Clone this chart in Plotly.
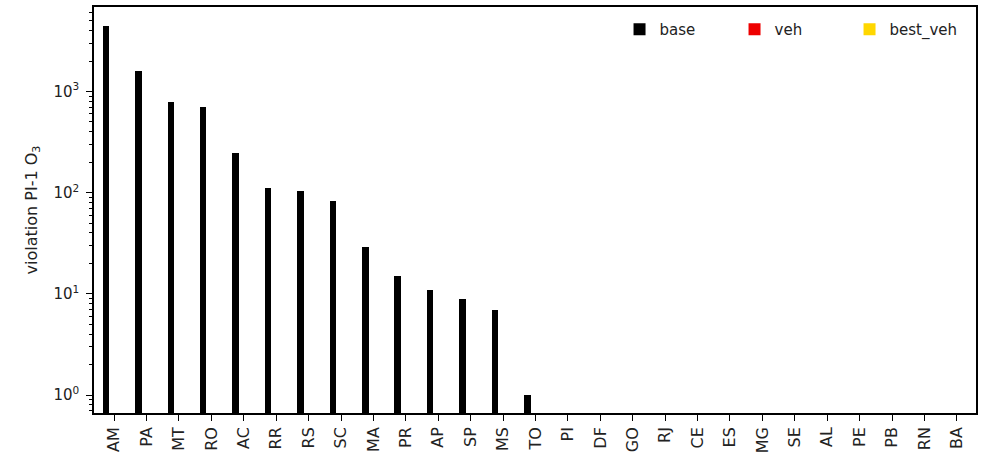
"""Violation counts of PI-1 O3 per state, log scale bar chart."""

import plotly.graph_objects as go

STATES = [
    "AM", "PA", "MT", "RO", "AC", "RR", "RS", "SC", "MA", "PR", "AP", "SP", "MS", "TO",
    "PI", "DF", "GO", "RJ", "CE", "ES", "MG", "SE", "AL", "PE", "PB", "RN", "BA",
]
BASE = [4446, 1606, 783, 710, 245, 112, 104, 83, 29, 15, 11, 9, 7, 1,
        0, 0, 0, 0, 0, 0, 0, 0, 0, 0, 0, 0, 0]
VEH = [0] * len(STATES)
BEST_VEH = [0] * len(STATES)

MAJOR_TICKS = [1, 10, 100, 1000]
MAJOR_TEXT = ["10<sup>0</sup>", "10<sup>1</sup>", "10<sup>2</sup>", "10<sup>3</sup>"]
MINOR_TICKS = [m * 10 ** d for d in range(-1, 4) for m in range(2, 10)]

FONT = "DejaVu Sans"
INK = "#222222"

# (name, values, colour, left-edge offset within category)
SERIES = [
    ("base", BASE, "black", -0.35),
    ("veh", VEH, "#ee0000", -0.10),
    ("best_veh", BEST_VEH, "#ffd700", 0.15),
]

fig = go.Figure()
for name, vals, color, off in SERIES:
    fig.add_trace(go.Bar(
        x=STATES,
        y=[v if v > 0 else None for v in vals],
        name=name,
        marker={"color": color, "line": {"width": 0}},
        width=0.2,
        offset=off,
    ))

fig.update_layout(
    width=983,
    height=466,
    barmode="overlay",
    plot_bgcolor="white",
    paper_bgcolor="white",
    margin={"l": 94, "r": 6, "t": 5, "b": 53},
    font={"family": FONT, "size": 15, "color": INK},
    showlegend=True,
    legend={
        "orientation": "h",
        "x": 0.987, "xanchor": "right",
        "y": 0.985, "yanchor": "top",
        "bgcolor": "rgba(0,0,0,0)",
        "font": {"size": 15},
        "itemwidth": 30,
        "entrywidth": 70,
        "traceorder": "normal",
    },
    bargap=0,
)

fig.update_xaxes(
    type="category",
    range=[-0.62, 26.59],
    showline=True, linecolor="black", linewidth=1.5, mirror=True,
    ticks="outside", ticklen=6, tickwidth=1.2, tickcolor="black",
    tickangle=-90,
    tickfont={"size": 16},
    showgrid=False,
)
fig.update_yaxes(
    type="log",
    range=[-0.177, 3.835],
    showline=True, linecolor="black", linewidth=1.5, mirror=True,
    tickvals=MAJOR_TICKS, ticktext=MAJOR_TEXT,
    ticks="outside", ticklen=6, tickwidth=1.2, tickcolor="black",
    tickfont={"size": 15},
    ticklabelstandoff=4,
    minor={"tickvals": MINOR_TICKS, "ticks": "outside", "ticklen": 3,
           "tickcolor": "black", "showgrid": False},
    showgrid=False,
    zeroline=False,
    title={"text": "violation PI-1 O<sub>3</sub>", "font": {"size": 16}, "standoff": 12},
)

fig.write_html(
    "out.html",
    config={"displayModeBar": False},
    post_script="document.body.style.margin='0';",
)
